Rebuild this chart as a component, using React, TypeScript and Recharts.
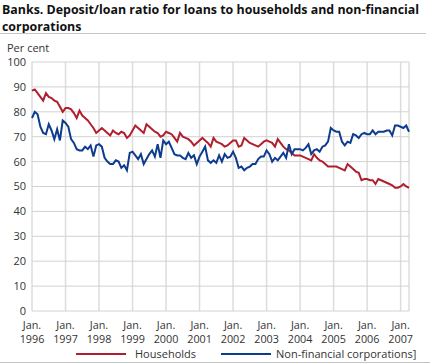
import React from "react";
import { LineChart, Line, XAxis, YAxis, CartesianGrid, Legend } from "recharts";

const years = ["1996", "1997", "1998", "1999", "2000", "2001", "2002", "2003", "2004", "2005", "2006", "2007"];
const yTicks = [0, 10, 20, 30, 40, 50, 60, 70, 80, 90, 100];

const households = [
  88.5, 89, 87.5, 86, 84.5, 87.5, 86, 85.5, 84.5, 84, 82, 80,
  81.5, 81.5, 81, 79.5, 77.5, 80.5, 78.5, 77.5, 76.5, 75, 73.5, 71.5,
  72.5, 73.5, 72.5, 71.5, 70.5, 72.5, 71.5, 71, 72, 71.5, 69.5, 70.5,
  72.5, 74.5, 73.5, 72.5, 71.5, 75, 74, 73, 72, 71.5, 70, 70.5,
  72, 71.5, 71, 69.5, 68, 71.5, 70, 69.5, 69, 68, 66.5, 67.5,
  68.5, 69.5, 68.5, 67.5, 66, 69.5, 68, 67.5, 67, 66, 66.5, 67.5,
  68.5, 68.5, 66, 66.5, 69.5, 68.5, 67.5, 67, 66.5, 66, 67, 68,
  68.5, 68, 67.5, 66, 69, 67.5, 66, 65, 64.5, 63.5, 62.5, 62.5,
  62.5, 62, 61.5, 61, 60.5, 63, 61.5, 60.5, 60, 59, 58, 58,
  58, 58, 57.5, 57, 56.5, 59, 58, 57, 56, 55.5, 52.5, 53,
  53, 52.5, 52.5, 51, 53, 52.5, 52, 51.5, 51, 50.5, 49.5, 49.5,
  50, 51, 50, 49.5,
];

const nonFinancial = [
  77.5, 80, 79, 74, 71.5, 71, 75, 72.5, 69, 73, 68.5, 76.5,
  75.5, 74, 69, 67.5, 65, 64.5, 64.5, 66, 65, 66.5, 62, 66.5,
  67, 66, 61.5, 60, 59, 59, 60.5, 60, 57.5, 58.5, 56.5, 63.5,
  64, 62.5, 61, 63, 59, 61, 63, 64.5, 62, 67, 61.5, 68.5,
  67, 68, 65.5, 63, 62.5, 62.5, 61.5, 61, 63.5, 61.5, 62.5, 59,
  62, 64, 66, 60.5, 59.5, 60.5, 59.5, 62.5, 60, 63, 61.5, 62,
  64, 61.5, 57.5, 58, 56.5, 57.5, 58, 59, 59, 61, 62, 62,
  64.5, 63, 60, 61.5, 60.5, 62, 63.5, 61.5, 67, 63, 65, 65,
  65, 64.5, 65.5, 67, 63, 64.5, 65, 64, 66, 66.5, 68, 73.5,
  72.5, 72, 72, 68, 66.5, 68, 67.5, 71, 70.5, 69.5, 71, 71.5,
  71, 71, 72.5, 71, 72, 72, 72, 72.5, 72.5, 70.5, 74.5, 74.5,
  74, 73.5, 74.5, 72,
];

const monthIndex = households.map((_, i) => i);
const yearTicks = years.map((_, i) => i * 12);
const data = monthIndex.map((m) => ({ m, households: households[m], nonFinancial: nonFinancial[m] }));

const RED = "#b01f2e";
const BLUE = "#0d3c8e";
const FONT = "'Open Sans', sans-serif";
const TEXT = "#333333";

const YearTick = (props: any) => {
  const { x, y, payload } = props;
  const label = years[Math.round(payload.value / 12)];
  return (
    <g transform={`translate(${x},${y})`}>
      <text textAnchor="middle" fill={TEXT} fontSize={10.8} fontFamily={FONT} x={0} y={18}>Jan.</text>
      <text textAnchor="middle" fill={TEXT} fontSize={10.8} fontFamily={FONT} x={0} y={32}>{label}</text>
    </g>
  );
};

const LegendContent = () => (
  <div style={{ position: "relative", height: 15, width: 409, fontFamily: FONT, fontSize: 11, color: TEXT }}>
    <div style={{ position: "absolute", left: 76, top: -1, height: 12, lineHeight: "12px", display: "flex", alignItems: "center", whiteSpace: "nowrap" }}>
      <svg width={50} height={4}><line x1={0} y1={2} x2={50} y2={2} stroke={RED} strokeWidth={2} /></svg>
      <span style={{ marginLeft: 9 }}>Households</span>
      <svg width={50} height={4} style={{ marginLeft: 25 }}><line x1={0} y1={2} x2={50} y2={2} stroke={BLUE} strokeWidth={2} /></svg>
      <span style={{ marginLeft: 5 }}>Non-financial corporations]</span>
    </div>
    <div style={{ position: "absolute", left: 0, top: 13, width: 430, height: 1, background: "#c4c4c4" }} />
  </div>
);

export default function App() {
  return (
    <div style={{ position: "absolute", left: 0, top: 0, width: 434, height: 364, background: "#fff", overflow: "hidden" }}>
      <div style={{ position: "absolute", left: 2, top: 1, fontFamily: FONT, fontWeight: 700, fontSize: 12.4, lineHeight: "17px", color: "#111", whiteSpace: "nowrap" }}>
        Banks. Deposit/loan ratio for loans to households and non-financial
        <br />
        corporations
      </div>
      <div style={{ position: "absolute", left: 0, top: 33, width: 426, height: 1, background: "#c4c4c4" }} />
      <div style={{ position: "absolute", left: 7, top: 41, fontFamily: FONT, fontSize: 11, lineHeight: "14px", color: TEXT }}>Per cent</div>
      <div style={{ position: "absolute", left: 0, top: 0 }}>
        <LineChart width={434} height={364} data={data} margin={{ top: 62, right: 25, left: 0, bottom: 0 }}>
          <CartesianGrid xAxisId="years" horizontal={false} stroke="#dcdcdc" strokeWidth={1.5} />
          <CartesianGrid xAxisId="years" vertical={false} stroke="#d2d2d2" strokeWidth={1} />
          <XAxis
            dataKey="m"
            type="number"
            domain={[0, 135]}
            ticks={monthIndex}
            interval={0}
            tick={false}
            tickLine={{ stroke: "#c8c8c8" }}
            tickSize={6}
            mirror
            axisLine={false}
            height={0}
          />
          <XAxis
            xAxisId="years"
            dataKey="m"
            type="number"
            domain={[0, 135]}
            ticks={yearTicks}
            interval={0}
            tick={<YearTick />}
            tickLine={false}
            tickSize={0}
            tickMargin={0}
            axisLine={false}
            height={38}
          />
          <YAxis
            type="number"
            domain={[0, 100]}
            ticks={yTicks}
            interval={0}
            width={32}
            tickLine={false}
            tickSize={0}
            tickMargin={6}
            axisLine={false}
            tick={{ fill: TEXT, fontSize: 11, fontFamily: FONT }}
          />
          <Legend verticalAlign="bottom" align="left" height={15} content={<LegendContent />} wrapperStyle={{ margin: 0, padding: 0 }} />
          <Line type="linear" dataKey="households" name="Households" stroke={RED} strokeWidth={2} dot={false} isAnimationActive={false} />
          <Line type="linear" dataKey="nonFinancial" name="Non-financial corporations]" stroke={BLUE} strokeWidth={2} dot={false} isAnimationActive={false} />
        </LineChart>
      </div>
    </div>
  );
}
